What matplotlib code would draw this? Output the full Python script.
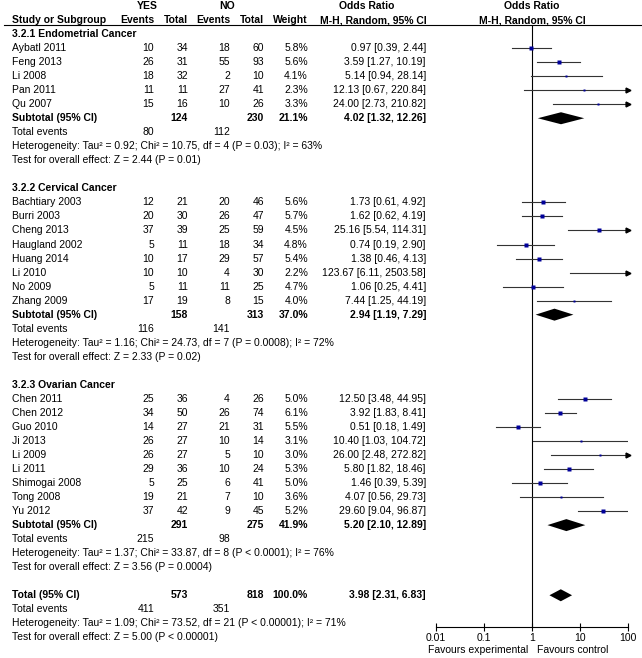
import numpy as np
import matplotlib
matplotlib.use("Agg")
import matplotlib.pyplot as plt

plt.rcParams['font.family'] = ['Liberation Sans', 'DejaVu Sans']

# study level data
studies = ["Aybatl 2011", "Feng 2013", "Li 2008", "Pan 2011", "Qu 2007",
           "Bachtiary 2003", "Burri 2003", "Cheng 2013", "Haugland 2002", "Huang 2014",
           "Li 2010", "No 2009", "Zhang 2009",
           "Chen 2011", "Chen 2012", "Guo 2010", "Ji 2013", "Li 2009", "Li 2011",
           "Shimogai 2008", "Tong 2008", "Yu 2012"]
group_idx = [0]*5 + [1]*8 + [2]*9
yes_events = [10, 26, 18, 11, 15, 12, 20, 37, 5, 10, 10, 5, 17, 25, 34, 14, 26, 26, 29, 5, 19, 37]
yes_total = [34, 31, 32, 11, 16, 21, 30, 39, 11, 17, 10, 11, 19, 36, 50, 27, 27, 27, 36, 25, 21, 42]
no_events = [18, 55, 2, 27, 10, 20, 26, 25, 18, 29, 4, 11, 8, 4, 26, 21, 10, 5, 10, 6, 7, 9]
no_total = [60, 93, 10, 41, 26, 46, 47, 59, 34, 57, 30, 25, 15, 26, 74, 31, 14, 10, 24, 41, 10, 45]
weights = [5.8, 5.6, 4.1, 2.3, 3.3, 5.6, 5.7, 4.5, 4.8, 5.4, 2.2, 4.7, 4.0,
           5.0, 6.1, 5.5, 3.1, 3.0, 5.3, 5.0, 3.6, 5.2]
odds = [0.97, 3.59, 5.14, 12.13, 24.00, 1.73, 1.62, 25.16, 0.74, 1.38, 123.67, 1.06, 7.44,
        12.50, 3.92, 0.51, 10.40, 26.00, 5.80, 1.46, 4.07, 29.60]
ci_lo = [0.39, 1.27, 0.94, 0.67, 2.73, 0.61, 0.62, 5.54, 0.19, 0.46, 6.11, 0.25, 1.25,
         3.48, 1.83, 0.18, 1.03, 2.48, 1.82, 0.39, 0.56, 9.04]
ci_hi = [2.44, 10.19, 28.14, 220.84, 210.82, 4.92, 4.19, 114.31, 2.90, 4.13, 2503.58, 4.41, 44.19,
         44.95, 8.41, 1.49, 104.72, 272.82, 18.46, 5.39, 29.73, 96.87]

# subgroup data
group_names = ["3.2.1 Endometrial Cancer", "3.2.2 Cervical Cancer", "3.2.3 Ovarian Cancer"]
sub_yes_total = [124, 158, 291]
sub_no_total = [230, 313, 275]
sub_weight = [21.1, 37.0, 41.9]
sub_or = [4.02, 2.94, 5.20]
sub_lo = [1.32, 1.19, 2.10]
sub_hi = [12.26, 7.29, 12.89]
sub_yes_events = [80, 116, 215]
sub_no_events = [112, 141, 98]
sub_het = ["Heterogeneity: Tau\u00b2 = 0.92; Chi\u00b2 = 10.75, df = 4 (P = 0.03); I\u00b2 = 63%",
           "Heterogeneity: Tau\u00b2 = 1.16; Chi\u00b2 = 24.73, df = 7 (P = 0.0008); I\u00b2 = 72%",
           "Heterogeneity: Tau\u00b2 = 1.37; Chi\u00b2 = 33.87, df = 8 (P < 0.0001); I\u00b2 = 76%"]
sub_test = ["Test for overall effect: Z = 2.44 (P = 0.01)",
            "Test for overall effect: Z = 2.33 (P = 0.02)",
            "Test for overall effect: Z = 3.56 (P = 0.0004)"]

# overall
total_yes, total_no, total_weight = 573, 818, 100.0
total_or, total_lo, total_hi = 3.98, 2.31, 6.83
total_yes_events, total_no_events = 411, 351
total_het = "Heterogeneity: Tau\u00b2 = 1.09; Chi\u00b2 = 73.52, df = 21 (P < 0.00001); I\u00b2 = 71%"
total_test = "Test for overall effect: Z = 5.00 (P < 0.00001)"

ticks = [0.01, 0.1, 1, 10, 100]
tick_labels = ["0.01", "0.1", "1", "10", "100"]

W, H = 642, 658
FS = 7.5
ROW = 14.03

fig = plt.figure(figsize=(W/100, H/100), dpi=100)
ax = fig.add_axes([0, 0, 1, 1])
ax.set_xlim(0, W)
ax.set_ylim(H, 0)
ax.axis('off')

# forest axes, same vertical pixel scale
top, bottom = 25, 627
left, right = 436, 628
fx = fig.add_axes([left/W, 1-bottom/H, (right-left)/W, (bottom-top)/H])
fx.set_xscale('log')
fx.set_xlim(0.01, 100)
fx.set_ylim(bottom, top)
fx.patch.set_visible(False)
for s in ['left', 'right', 'top']:
    fx.spines[s].set_visible(False)
fx.spines['bottom'].set_linewidth(0.8)
fx.set_yticks([])
fx.set_xticks(ticks)
fx.set_xticklabels(tick_labels, fontsize=FS)
fx.minorticks_off()
fx.tick_params(axis='x', direction='inout', length=6, width=0.8, pad=1)
fx.axvline(1, color='black', lw=0.8)

def ypos(r):
    return 6 + r*ROW

def txt(x, r, s, ha='left', bold=False):
    ax.text(x, ypos(r), s, ha=ha, va='center', fontsize=FS,
            fontweight='bold' if bold else 'normal')

# column x positions
c_name, c_ye, c_yt, c_ne, c_nt, c_w, c_or = 12, 154, 188, 230, 264, 308, 426

# header
txt(147, 0, "YES", ha='center', bold=True)
txt(227, 0, "NO", ha='center', bold=True)
txt(367, 0, "Odds Ratio", ha='center', bold=True)
txt(532, 0, "Odds Ratio", ha='center', bold=True)
txt(c_name, 1, "Study or Subgroup", bold=True)
txt(c_ye, 1, "Events", ha='right', bold=True)
txt(c_yt, 1, "Total", ha='right', bold=True)
txt(c_ne, 1, "Events", ha='right', bold=True)
txt(c_nt, 1, "Total", ha='right', bold=True)
txt(c_w, 1, "Weight", ha='right', bold=True)
txt(373, 1, "M-H, Random, 95% CI", ha='center', bold=True)
txt(532, 1, "M-H, Random, 95% CI", ha='center', bold=True)
ax.plot([4, W], [25, 25], color='black', lw=0.8)

def diamond(r, o, lo, hi):
    y = ypos(r)
    fx.fill([lo, o, hi, o], [y, y-6, y, y+6], color='black', lw=0)

row = 2
for g in range(3):
    txt(c_name, row, group_names[g], bold=True)
    row += 1
    for i in [k for k in range(len(studies)) if group_idx[k] == g]:
        txt(c_name, row, studies[i])
        txt(c_ye, row, str(yes_events[i]), ha='right')
        txt(c_yt, row, str(yes_total[i]), ha='right')
        txt(c_ne, row, str(no_events[i]), ha='right')
        txt(c_nt, row, str(no_total[i]), ha='right')
        txt(c_w, row, f"{weights[i]:.1f}%", ha='right')
        txt(c_or, row, f"{odds[i]:.2f} [{ci_lo[i]:.2f}, {ci_hi[i]:.2f}]", ha='right')
        y = ypos(row)
        hi = min(ci_hi[i], 100)
        fx.plot([ci_lo[i], hi], [y, y], color='#333333', lw=0.8)
        fx.plot(odds[i], y, marker='s', ms=1.4 + weights[i]*0.17, color='#000099', mec='none')
        if ci_hi[i] > 110:
            fx.plot(100, y, marker='>', ms=3.5, color='black', clip_on=False)
        row += 1
    txt(c_name, row, "Subtotal (95% CI)", bold=True)
    txt(c_yt, row, str(sub_yes_total[g]), ha='right', bold=True)
    txt(c_nt, row, str(sub_no_total[g]), ha='right', bold=True)
    txt(c_w, row, f"{sub_weight[g]:.1f}%", ha='right', bold=True)
    txt(c_or, row, f"{sub_or[g]:.2f} [{sub_lo[g]:.2f}, {sub_hi[g]:.2f}]", ha='right', bold=True)
    diamond(row, sub_or[g], sub_lo[g], sub_hi[g])
    row += 1
    txt(c_name, row, "Total events")
    txt(c_ye, row, str(sub_yes_events[g]), ha='right')
    txt(c_ne, row, str(sub_no_events[g]), ha='right')
    row += 1
    txt(c_name, row, sub_het[g])
    row += 1
    txt(c_name, row, sub_test[g])
    row += 2

txt(c_name, row, "Total (95% CI)", bold=True)
txt(c_yt, row, str(total_yes), ha='right', bold=True)
txt(c_nt, row, str(total_no), ha='right', bold=True)
txt(c_w, row, f"{total_weight:.1f}%", ha='right', bold=True)
txt(c_or, row, f"{total_or:.2f} [{total_lo:.2f}, {total_hi:.2f}]", ha='right', bold=True)
diamond(row, total_or, total_lo, total_hi)
row += 1
txt(c_name, row, "Total events")
txt(c_ye, row, str(total_yes_events), ha='right')
txt(c_ne, row, str(total_no_events), ha='right')
row += 1
txt(c_name, row, total_het)
row += 1
txt(c_name, row, total_test)

ax.text(528, 650, "Favours experimental", ha='right', va='center', fontsize=FS)
ax.text(537, 650, "Favours control", ha='left', va='center', fontsize=FS)

fig.savefig("out.png", dpi=100)
